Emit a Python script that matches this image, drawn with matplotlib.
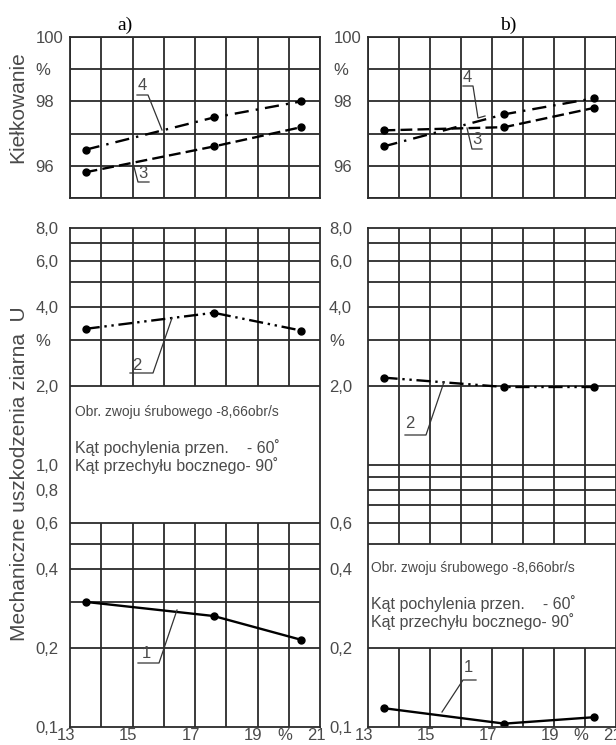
import matplotlib
matplotlib.use("Agg")
import matplotlib.pyplot as plt
from matplotlib.lines import Line2D
from matplotlib.transforms import ScaledTranslation

plt.rcParams["font.family"] = ["Liberation Sans", "DejaVu Sans"]

W, H = 616, 745

# wilgotność ziarna (%), punkty pomiarowe
x_a = [13.5, 17.6, 20.4]
x_b = [13.5, 17.4, 20.3]

# kiełkowanie (%) - krzywe 3 i 4
germ3_a = [95.8, 96.6, 97.2]
germ4_a = [96.5, 97.5, 98.0]
germ3_b = [97.1, 97.2, 97.8]
germ4_b = [96.6, 97.6, 98.1]

# uszkodzenia mechaniczne (%) - krzywe 1 i 2
dmg1_a = [0.30, 0.265, 0.215]
dmg2_a = [3.3, 3.8, 3.25]
dmg1_b = [0.118, 0.103, 0.109]
dmg2_b = [2.15, 1.98, 1.98]

x_ticks = [13, 15, 17, 19, 20, 21]
x_labels = ["13", "15", "17", "19", "%", "21"]
top_ticks = [100, 99, 98, 97, 96, 95]
top_labels = ["100", "%", "98", "", "96", ""]
low_ticks_a = [8, 6, 4, 3, 2, 1, 0.8, 0.6, 0.4, 0.2, 0.1]
low_labels_a = ["8,0", "6,0", "4,0", "%", "2,0", "1,0", "0,8", "0,6", "0,4", "0,2", "0,1"]
low_ticks_b = [8, 6, 4, 3, 2, 0.6, 0.4, 0.2, 0.1]
low_labels_b = ["8,0", "6,0", "4,0", "%", "2,0", "0,6", "0,4", "0,2", "0,1"]

GRID = "#2b2b2b"
TXT = "#4a4a4a"


def fpos(px, py):
    return px / W, 1 - py / H


def make_ax(fig, x0, y0, x1, y1):
    l, t = fpos(x0, y0)
    r, b = fpos(x1, y1)
    ax = fig.add_axes([l, b, r - l, t - b])
    for s in ax.spines.values():
        s.set_color(GRID)
        s.set_linewidth(1.3)
    ax.tick_params(length=0, labelsize=12, labelcolor=TXT)
    return ax


def style_yticks(ax, ticks, labels, pad):
    ax.set_yticks(ticks)
    ax.set_yticklabels(labels)
    ax.yaxis.set_minor_locator(matplotlib.ticker.NullLocator())
    ax.tick_params(axis="y", pad=pad)
    for lbl in ax.get_yticklabels():
        lbl.set_ha("left")


def leader(fig, pts):
    xs = [p[0] / W for p in pts]
    ys = [1 - p[1] / H for p in pts]
    fig.add_artist(Line2D(xs, ys, color="#333333", lw=0.9))


def label(fig, px, py, s):
    fig.text(px / W, 1 - py / H, s, ha="center", va="center",
             fontsize=12, color=TXT)


fig = plt.figure(figsize=(W / 100, H / 100), dpi=100)

line_kw = dict(color="black", lw=1.7, marker="o", markersize=5)
ls3 = (0, (5, 2.2))
ls4 = (0, (6, 3, 1, 3))
ls2 = (0, (6, 2, 1, 2, 1, 2))

panels = [
    (70, 320, x_a, germ3_a, germ4_a, dmg1_a, dmg2_a, low_ticks_a, low_labels_a),
    (368, 616, x_b, germ3_b, germ4_b, dmg1_b, dmg2_b, low_ticks_b, low_labels_b),
]

shift = ScaledTranslation(-4 / 100, 0, fig.dpi_scale_trans)

for i, (x0, x1, xs, g3, g4, d1, d2, lt, ll) in enumerate(panels):
    # górny wykres - kiełkowanie
    ax = make_ax(fig, x0, 37, x1, 198)
    ax.set_xlim(13, 21)
    ax.set_ylim(95, 100)
    ax.set_xticks(range(13, 22))
    ax.set_xticklabels([])
    style_yticks(ax, top_ticks, top_labels, 25)
    ax.grid(True, color=GRID, lw=1.3)
    ax.plot(xs, g4, linestyle=ls4, **line_kw)
    ax.plot(xs, g3, linestyle=ls3, **line_kw)

    # dolny wykres - uszkodzenia (skala log)
    bx = make_ax(fig, x0, 228, x1, 727)
    bx.set_yscale("log")
    bx.set_xlim(13, 21)
    bx.set_ylim(0.1, 8)
    style_yticks(bx, lt, ll, 25 if i == 0 else 28)
    bx.set_xticks(x_ticks)
    bx.set_xticklabels(x_labels)
    bx.tick_params(axis="x", pad=1)
    bx.xaxis.set_minor_locator(matplotlib.ticker.NullLocator())
    for lbl in bx.get_xticklabels():
        lbl.set_transform(lbl.get_transform() + shift)

    if i == 0:
        h_lines = [7, 6, 5, 4, 3, 2, 0.6, 0.5, 0.4, 0.3, 0.2]
        v_spans = [(2, 8), (0.1, 0.6)]
    else:
        h_lines = [7, 6, 5, 4, 3, 2, 1.0, 0.9, 0.8, 0.7, 0.6, 0.5, 0.2]
        v_spans = [(0.5, 8), (0.1, 0.2)]
    bx.hlines(h_lines, 13, 21, color=GRID, lw=1.3)
    for lo, hi in v_spans:
        bx.vlines(range(14, 21), lo, hi, color=GRID, lw=1.3)

    bx.plot(xs, d2, linestyle=ls2, **line_kw)
    bx.plot(xs, d1, linestyle="-", **line_kw)

# opisy warunków
for tx, ty in [(75, 412), (371, 568)]:
    fig.text(tx / W, 1 - ty / H, "Obr. zwoju śrubowego -8,66obr/s",
             fontsize=10, color=TXT, va="center")
    fig.text(tx / W, 1 - (ty + 36) / H, "Kąt pochylenia przen.    - 60˚",
             fontsize=11.5, color=TXT, va="center")
    fig.text(tx / W, 1 - (ty + 54) / H, "Kąt przechyłu bocznego- 90˚",
             fontsize=11.5, color=TXT, va="center")

# oznaczenia krzywych
label(fig, 142, 86, "4")
leader(fig, [(137, 95), (148, 95), (162, 130)])
label(fig, 143, 173, "3")
leader(fig, [(133, 163), (138, 182), (149, 182)])
label(fig, 467, 78, "4")
leader(fig, [(463, 86), (473, 86), (478, 118), (485, 116)])
label(fig, 477, 140, "3")
leader(fig, [(467, 128), (472, 149), (482, 149)])
label(fig, 137, 365, "2")
leader(fig, [(130, 373), (153, 373), (172, 318)])
label(fig, 410, 424, "2")
leader(fig, [(405, 435), (426, 435), (444, 382)])
label(fig, 146, 653, "1")
leader(fig, [(138, 663), (159, 663), (177, 610)])
label(fig, 468, 668, "1")
leader(fig, [(476, 680), (463, 680), (442, 712)])

# osie i tytuły
fig.text(18 / W, 1 - 107 / H, "Kiełkowanie", rotation=90, ha="center",
         va="center", fontsize=15, color=TXT)
fig.text(20 / W, 1 - 474 / H, "Mechaniczne uszkodzenia ziarna  U",
         rotation=90, ha="center", va="center", fontsize=15, color=TXT)
fig.text(125 / W, 1 - 25 / H, "a)", ha="center", va="center", fontsize=14,
         family=["Liberation Serif", "DejaVu Serif"])
fig.text(508 / W, 1 - 25 / H, "b)", ha="center", va="center", fontsize=14,
         family=["Liberation Serif", "DejaVu Serif"])

fig.savefig("out.png", dpi=100)
